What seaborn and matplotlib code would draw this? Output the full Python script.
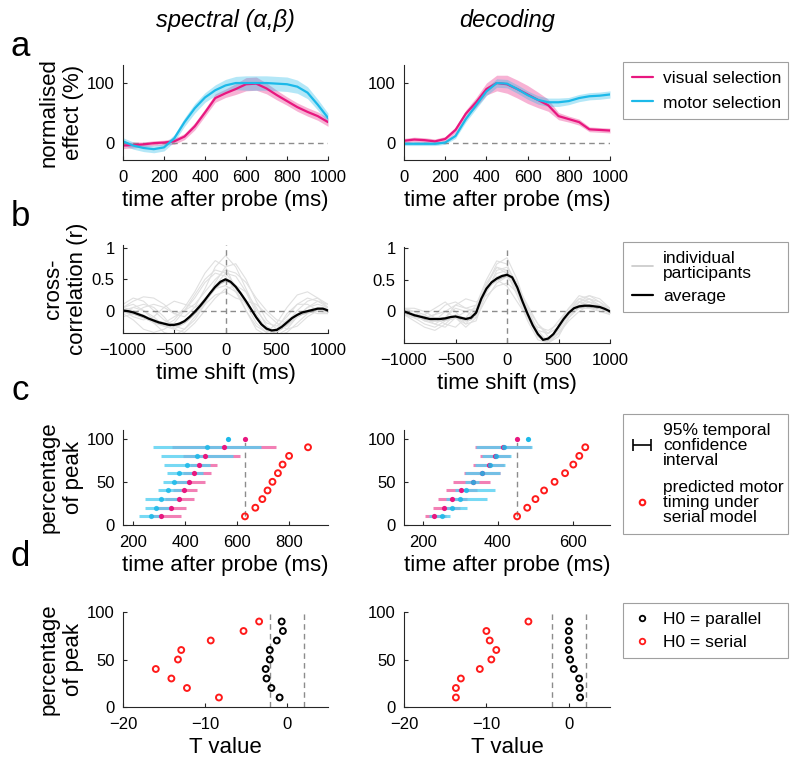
import numpy as np
import pandas as pd
import seaborn as sns
import matplotlib.pyplot as plt
from matplotlib.lines import Line2D

sns.set_style("ticks")
plt.rcParams['font.family'] = ['Liberation Sans', 'DejaVu Sans']
plt.rcParams['text.color'] = 'black'
plt.rcParams['axes.labelcolor'] = 'black'

PINK = '#e8177f'
CYAN = '#1cb9e9'
RED = '#ff1a1a'
AXC = '#262626'

# ---- panel a: normalised effect over time ----
t_a = list(range(0, 1001, 50))
spec_visual = [-4, -3, -2, 0, 1, 3, 11, 28, 51, 75, 83, 90, 98, 99, 91, 80, 70, 60, 52, 45, 35]
spec_visual_sem = [5, 5, 4, 4, 4, 5, 5, 6, 6, 7, 7, 9, 11, 11, 9, 8, 7, 7, 7, 7, 7]
spec_motor = [3, -4, -8, -10, -7, 8, 35, 58, 76, 88, 96, 100, 100, 100, 100, 99, 98, 94, 84, 64, 42]
spec_motor_sem = [6, 6, 6, 6, 6, 6, 7, 8, 8, 9, 10, 11, 12, 12, 12, 12, 12, 11, 10, 9, 8]
dec_visual = [4, 6, 5, 3, 7, 22, 49, 68, 90, 100, 98, 90, 81, 72, 63, 45, 40, 35, 23, 22, 21]
dec_visual_sem = [4, 4, 4, 4, 4, 5, 6, 8, 10, 13, 15, 15, 15, 13, 10, 6, 5, 5, 4, 4, 4]
dec_motor = [-1, -1, -1, -1, 1, 12, 40, 63, 86, 100, 99, 90, 80, 72, 68, 68, 70, 75, 78, 79, 81]
dec_motor_sem = [3, 3, 3, 3, 3, 4, 5, 6, 7, 7, 7, 7, 7, 7, 7, 7, 6, 6, 6, 6, 6]

# ---- panel b: cross-correlation ----
lag_avg = list(range(-1000, 1001, 50))
spec_xcorr = [0.0, -0.01, -0.03, -0.06, -0.09, -0.13, -0.16, -0.19, -0.21, -0.23, -0.23,
              -0.21, -0.17, -0.10, -0.02, 0.07, 0.17, 0.28, 0.38, 0.46, 0.50,
              0.46, 0.38, 0.27, 0.15, 0.02, -0.11, -0.22, -0.29, -0.32, -0.31,
              -0.26, -0.19, -0.12, -0.07, -0.03, -0.01, 0.01, 0.03, 0.03, 0.0]
dec_xcorr = [0.0, -0.03, -0.06, -0.08, -0.10, -0.12, -0.12, -0.12, -0.11, -0.09, -0.08,
             -0.10, -0.12, -0.10, -0.02, 0.20, 0.36, 0.46, 0.52, 0.56, 0.58,
             0.54, 0.38, 0.16, -0.04, -0.22, -0.36, -0.45, -0.43, -0.36, -0.24,
             -0.12, -0.02, 0.05, 0.08, 0.09, 0.09, 0.08, 0.07, 0.04, 0.0]
xcorr_sem = 0.03

lag_ind = list(range(-1000, 1001, 100))
spec_ind = [
    [0.05, 0.15, 0.22, 0.2, 0.1, -0.05, -0.1, 0.05, 0.35, 0.7, 0.88, 0.7, 0.35, 0.0, -0.2, -0.25, -0.1, 0.1, 0.2, 0.15, 0.05],
    [-0.05, -0.15, -0.3, -0.35, -0.3, -0.2, 0.0, 0.25, 0.5, 0.65, 0.6, 0.4, 0.1, -0.2, -0.35, -0.3, -0.15, -0.05, 0.0, -0.05, -0.05],
    [0.0, 0.05, 0.0, -0.1, -0.25, -0.3, -0.2, 0.0, 0.2, 0.35, 0.4, 0.3, 0.1, -0.1, -0.3, -0.4, -0.3, -0.1, 0.05, 0.1, 0.05],
    [0.1, 0.2, 0.15, 0.0, -0.15, -0.25, -0.3, -0.15, 0.1, 0.45, 0.7, 0.75, 0.5, 0.15, -0.15, -0.3, -0.25, -0.1, 0.0, 0.05, 0.0],
    [-0.1, -0.05, 0.05, 0.1, 0.05, -0.05, 0.0, 0.2, 0.45, 0.6, 0.55, 0.3, 0.0, -0.25, -0.35, -0.2, 0.05, 0.25, 0.3, 0.2, 0.05],
    [0.05, 0.0, -0.1, -0.2, -0.35, -0.4, -0.3, -0.1, 0.1, 0.25, 0.3, 0.2, 0.15, 0.1, -0.05, -0.2, -0.3, -0.25, -0.1, 0.0, 0.0],
    [0.0, -0.1, -0.15, -0.1, 0.05, 0.15, 0.1, 0.05, 0.15, 0.4, 0.6, 0.55, 0.3, -0.05, -0.3, -0.4, -0.35, -0.2, -0.05, 0.05, 0.05],
    [-0.05, 0.05, 0.1, 0.05, -0.1, -0.3, -0.35, -0.2, 0.0, 0.2, 0.35, 0.4, 0.3, 0.05, -0.25, -0.35, -0.2, 0.0, 0.15, 0.2, 0.1],
    [0.0, -0.05, -0.1, -0.2, -0.25, -0.15, 0.05, 0.3, 0.6, 0.8, 0.7, 0.35, 0.0, -0.3, -0.4, -0.3, -0.05, 0.1, 0.1, 0.0, -0.05],
    [0.05, 0.1, 0.0, -0.15, -0.2, -0.1, 0.0, 0.1, 0.3, 0.5, 0.65, 0.6, 0.45, 0.2, 0.0, -0.15, -0.2, -0.1, 0.05, 0.15, 0.1],
]
dec_ind = [
    [0.0, -0.05, -0.1, -0.05, 0.1, 0.15, 0.05, 0.1, 0.4, 0.75, 0.85, 0.5, 0.0, -0.35, -0.45, -0.3, 0.0, 0.15, 0.2, 0.1, 0.0],
    [-0.05, -0.15, -0.25, -0.3, -0.2, -0.05, -0.15, 0.05, 0.45, 0.7, 0.6, 0.25, -0.15, -0.45, -0.5, -0.3, -0.05, 0.1, 0.15, 0.1, 0.05],
    [0.05, 0.0, -0.05, -0.15, -0.1, 0.05, 0.0, -0.1, 0.2, 0.45, 0.55, 0.35, 0.0, -0.3, -0.35, -0.15, 0.05, 0.2, 0.15, 0.05, 0.0],
    [0.0, -0.1, -0.05, 0.05, 0.15, 0.0, -0.2, -0.15, 0.3, 0.65, 0.7, 0.45, 0.05, -0.3, -0.5, -0.4, -0.1, 0.1, 0.2, 0.15, 0.05],
    [-0.05, -0.1, -0.2, -0.25, -0.15, -0.1, -0.2, 0.0, 0.35, 0.5, 0.4, 0.15, -0.1, -0.25, -0.3, -0.2, 0.05, 0.25, 0.2, 0.05, -0.05],
    [0.05, 0.05, 0.0, -0.1, -0.2, -0.25, -0.1, 0.1, 0.5, 0.8, 0.75, 0.35, -0.05, -0.4, -0.5, -0.35, -0.15, 0.0, 0.1, 0.1, 0.05],
    [0.0, -0.05, -0.15, -0.2, -0.1, 0.1, 0.2, 0.15, 0.25, 0.4, 0.45, 0.3, 0.05, -0.2, -0.35, -0.25, 0.0, 0.2, 0.25, 0.15, 0.0],
    [-0.05, -0.1, -0.1, -0.05, 0.0, -0.1, -0.25, -0.1, 0.35, 0.6, 0.65, 0.4, 0.0, -0.4, -0.5, -0.35, -0.1, 0.05, 0.05, 0.0, 0.0],
    [0.0, 0.0, -0.1, -0.2, -0.25, -0.1, 0.0, 0.05, 0.3, 0.55, 0.6, 0.4, 0.1, -0.2, -0.4, -0.35, -0.1, 0.15, 0.25, 0.2, 0.05],
    [0.05, -0.05, -0.15, -0.15, 0.0, 0.1, 0.05, 0.0, 0.4, 0.7, 0.65, 0.3, -0.1, -0.4, -0.45, -0.25, 0.0, 0.15, 0.1, 0.0, -0.05],
]

# ---- panel c: timing of percentage of peak ----
pct = [10, 20, 30, 40, 50, 60, 70, 80, 90]
spec_vis_t = [306, 346, 375, 394, 413, 434, 453, 477, 551]
spec_vis_lo = [264, 289, 321, 353, 366, 390, 417, 390, 350]
spec_vis_hi = [385, 404, 432, 445, 475, 498, 522, 611, 749]
spec_mot_t = [268, 287, 306, 335, 355, 375, 407, 445, 485]
spec_mot_lo = [223, 245, 245, 296, 315, 328, 319, 306, 277]
spec_mot_hi = [315, 340, 379, 385, 411, 468, 494, 583, 692]
spec_peak = {'visual': 630, 'motor': 564}
spec_pred = [630, 670, 697, 717, 736, 757, 775, 800, 873]

dec_vis_t = [230, 258, 279, 303, 333, 357, 378, 394, 414]
dec_vis_lo = [207, 227, 240, 263, 281, 310, 335, 352, 340]
dec_vis_hi = [263, 299, 317, 344, 380, 405, 418, 432, 490]
dec_mot_t = [251, 279, 299, 315, 335, 359, 380, 396, 416]
dec_mot_lo = [218, 258, 263, 285, 313, 314, 339, 357, 342]
dec_mot_hi = [272, 317, 371, 393, 350, 407, 420, 435, 492]
dec_peak = {'visual': 452, 'motor': 481}
dec_pred = [452, 479, 501, 524, 552, 580, 602, 618, 634]

# ---- panel d: T values ----
spec_T_parallel = [-0.9, -1.9, -2.5, -2.6, -2.1, -2.1, -1.25, -0.5, -0.65]
spec_T_serial = [-8.3, -12.2, -14.1, -16.0, -13.3, -12.9, -9.3, -5.3, -3.4]
dec_T_parallel = [1.37, 1.33, 1.25, 0.6, 0.16, 0.0, 0.0, 0.0, 0.04]
dec_T_serial = [-13.7, -13.7, -13.1, -10.8, -9.4, -8.8, -9.6, -10.0, -4.9]
t_crit = 2.07

fig = plt.figure(figsize=(8, 7.66), dpi=100)


def add_axes_px(left, top, right, bottom):
    return fig.add_axes([left / 800, 1 - bottom / 766,
                         (right - left) / 800, (bottom - top) / 766])


def style(ax):
    sns.despine(ax=ax)
    for s in ['left', 'bottom']:
        ax.spines[s].set_color(AXC)
        ax.spines[s].set_linewidth(0.8)
    ax.tick_params(direction='in', length=3, width=0.8, colors=AXC,
                   labelcolor='black', labelsize=12)
    ax.tick_params(axis='x', pad=7)
    ax.tick_params(axis='y', pad=6)


LBL = 16

# panel a
axes_a = [add_axes_px(123, 65, 328, 160), add_axes_px(404, 65, 610, 160)]
series_a = [(spec_visual, spec_visual_sem, spec_motor, spec_motor_sem),
            (dec_visual, dec_visual_sem, dec_motor, dec_motor_sem)]
for ax, (vis, vis_sem, mot, mot_sem) in zip(axes_a, series_a):
    vis = np.array(vis); mot = np.array(mot)
    ax.plot([t_a[0], t_a[-1]], [0, 0], ls='--', color='#8c8c8c', lw=1, dashes=(4, 3))
    ax.fill_between(t_a, vis - np.array(vis_sem), vis + np.array(vis_sem),
                    color=PINK, alpha=0.33, lw=0)
    ax.fill_between(t_a, mot - np.array(mot_sem), mot + np.array(mot_sem),
                    color=CYAN, alpha=0.33, lw=0)
    sns.lineplot(x=t_a, y=vis, ax=ax, color=PINK, lw=1.6)
    sns.lineplot(x=t_a, y=mot, ax=ax, color=CYAN, lw=1.6)
    ax.set_xlim(0, 1000)
    ax.set_ylim(-28, 130)
    ax.set_xticks(range(0, 1001, 200))
    ax.set_yticks([0, 100])
    ax.set_xlabel('time after probe (ms)', fontsize=LBL)
    style(ax)
axes_a[0].set_ylabel('normalised\neffect (%)', fontsize=LBL)
axes_a[0].yaxis.set_label_coords(-0.19, 0.5)

# panel b
axes_b = [add_axes_px(123, 245, 328, 333), add_axes_px(404, 247, 610, 343)]
series_b = [(spec_ind, spec_xcorr, (-0.36, 1.05)), (dec_ind, dec_xcorr, (-0.5, 1.02))]
for ax, (ind, avg, ylim) in zip(axes_b, series_b):
    df = pd.DataFrame([(i, lag, r) for i, row in enumerate(ind) for lag, r in zip(lag_ind, row)],
                      columns=['participant', 'lag', 'r'])
    sns.lineplot(data=df, x='lag', y='r', units='participant', estimator=None,
                 ax=ax, color='#e0e0e0', lw=0.8)
    ax.axhline(0, ls='--', color='#8c8c8c', lw=1, dashes=(4, 3))
    ax.axvline(0, ls='--', color='#8c8c8c', lw=1, dashes=(4, 3))
    avg = np.array(avg)
    ax.fill_between(lag_avg, avg - xcorr_sem, avg + xcorr_sem, color='#8c8c8c', alpha=0.6, lw=0)
    sns.lineplot(x=lag_avg, y=avg, ax=ax, color='black', lw=1.6)
    ax.set_xlim(-1000, 1000)
    ax.set_ylim(*ylim)
    ax.set_xticks([-1000, -500, 0, 500, 1000])
    ax.set_yticks([0, 0.5, 1])
    ax.set_yticklabels(['0', '0.5', '1'])
    ax.set_xlabel('time shift (ms)', fontsize=LBL)
    ax.set_ylabel('')
    style(ax)
axes_b[0].set_ylabel('cross-\ncorrelation (r)', fontsize=LBL)
axes_b[0].yaxis.set_label_coords(-0.17, 0.5)

# panel c
axes_c = [add_axes_px(123, 430, 328, 525), add_axes_px(404, 430, 610, 525)]
series_c = [
    (spec_vis_t, spec_vis_lo, spec_vis_hi, spec_mot_t, spec_mot_lo, spec_mot_hi, spec_peak, spec_pred, (160, 950), [200, 400, 600, 800]),
    (dec_vis_t, dec_vis_lo, dec_vis_hi, dec_mot_t, dec_mot_lo, dec_mot_hi, dec_peak, dec_pred, (150, 700), [200, 400, 600]),
]
for ax, (vt, vlo, vhi, mt, mlo, mhi, peak, pred, xlim, xt) in zip(axes_c, series_c):
    ax.plot([peak['visual']] * 2, [pct[0], 100], ls='--', color='#8c8c8c', lw=1, dashes=(4, 3))
    ax.hlines(pct, vlo, vhi, color='#f06aa8', lw=2.2, alpha=0.85)
    ax.hlines(pct, mlo, mhi, color='#55d0f2', lw=2.2, alpha=0.8)
    sns.scatterplot(x=vt, y=pct, ax=ax, color=PINK, s=14, linewidth=0, zorder=3)
    sns.scatterplot(x=mt, y=pct, ax=ax, color=CYAN, s=14, linewidth=0, zorder=3, alpha=0.85)
    sns.scatterplot(x=[peak['motor']], y=[100], ax=ax, color=CYAN, s=14, linewidth=0, zorder=3)
    sns.scatterplot(x=[peak['visual']], y=[100], ax=ax, color=PINK, s=14, linewidth=0, zorder=3)
    sns.scatterplot(x=pred, y=pct, ax=ax, marker='o', s=18, facecolor='none',
                    edgecolor=RED, linewidth=1.4, zorder=4)
    ax.set_xlim(*xlim)
    ax.set_ylim(0, 110)
    ax.set_xticks(xt)
    ax.set_yticks([0, 50, 100])
    ax.set_xlabel('time after probe (ms)', fontsize=LBL)
    style(ax)
axes_c[0].set_ylabel('percentage\nof peak', fontsize=LBL)
axes_c[0].yaxis.set_label_coords(-0.19, 0.5)
eb = axes_c[0].errorbar([500], [-500], xerr=[50], fmt='none', ecolor='black',
                        elinewidth=1.2, capsize=4, capthick=1.2)

# panel d
axes_d = [add_axes_px(123, 612, 328, 707), add_axes_px(404, 612, 610, 707)]
series_d = [(spec_T_parallel, spec_T_serial), (dec_T_parallel, dec_T_serial)]
for ax, (tp, ts) in zip(axes_d, series_d):
    ax.axvline(-t_crit, ls='--', color='#8c8c8c', lw=1, dashes=(4, 3))
    ax.axvline(t_crit, ls='--', color='#8c8c8c', lw=1, dashes=(4, 3))
    sns.scatterplot(x=tp, y=pct, ax=ax, marker='o', s=18, facecolor='none',
                    edgecolor='black', linewidth=1.4, zorder=4)
    sns.scatterplot(x=ts, y=pct, ax=ax, marker='o', s=18, facecolor='none',
                    edgecolor=RED, linewidth=1.4, zorder=4)
    ax.set_xlim(-20, 5)
    ax.set_ylim(0, 100)
    ax.set_xticks([-20, -10, 0])
    ax.set_yticks([0, 50, 100])
    ax.set_xlabel('T value', fontsize=LBL)
    style(ax)
axes_d[0].set_ylabel('percentage\nof peak', fontsize=LBL)
axes_d[0].yaxis.set_label_coords(-0.19, 0.5)

# legends
LEG = dict(loc='upper left', mode='expand', borderaxespad=0, fontsize=12.5,
           handlelength=1.2, handletextpad=0.6, borderpad=0.5, fancybox=False,
           edgecolor='#a0a0a0', framealpha=1)


def fig_legend(handles, labels, top, bottom, spacing, linesp=1.0):
    leg = fig.legend(handles, labels, bbox_to_anchor=(623 / 800, 1 - bottom / 766, 165 / 800, (bottom - top) / 766),
                     labelspacing=spacing, **LEG)
    leg.get_frame().set_linewidth(0.8)
    for t in leg.get_texts():
        t.set_linespacing(linesp)
    return leg


fig_legend([Line2D([], [], color=PINK, lw=1.6), Line2D([], [], color=CYAN, lw=1.6)],
           ['visual selection', 'motor selection'], 62, 123, 0.55)
fig_legend([Line2D([], [], color='#c8c8c8', lw=1.2), Line2D([], [], color='black', lw=1.6)],
           ['individual\nparticipants', 'average'], 242, 313, 0.45)
fig_legend([eb, Line2D([], [], ls='none', marker='o', ms=4, mfc='none', mec=RED, mew=1.5)],
           ['95% temporal\nconfidence\ninterval', 'predicted motor\ntiming under\nserial model'],
           414, 544, 0.7)
fig_legend([Line2D([], [], ls='none', marker='o', ms=4, mfc='none', mec='black', mew=1.3),
            Line2D([], [], ls='none', marker='o', ms=4, mfc='none', mec=RED, mew=1.3)],
           ['H0 = parallel', 'H0 = serial'], 603, 660, 0.45)

# titles and panel letters
fig.text(225 / 800, 1 - 20 / 766, 'spectral (α,β)', style='italic', ha='center', va='center', fontsize=17)
fig.text(507 / 800, 1 - 20 / 766, 'decoding', style='italic', ha='center', va='center', fontsize=17)
for letter, y in zip('abcd', [47, 217, 390, 557]):
    fig.text(20 / 800, 1 - y / 766, letter, ha='center', va='center', fontsize=25)

fig.savefig('out.png', dpi=100)
